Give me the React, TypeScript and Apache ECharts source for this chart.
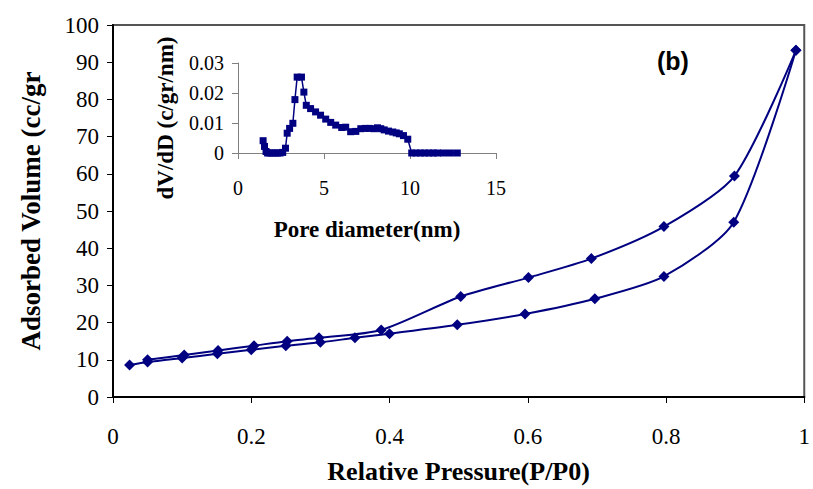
import React, { useEffect, useRef } from "react";
import * as echarts from "echarts";

// Main isotherm: adsorption branch
const adsP = [0.024, 0.05, 0.1, 0.151, 0.2, 0.25, 0.3, 0.35, 0.4, 0.498, 0.596, 0.697, 0.797, 0.898, 0.988];
const adsV = [8.6, 9.4, 10.5, 11.6, 12.7, 13.8, 14.7, 15.9, 17.0, 19.4, 22.3, 26.4, 32.4, 47.0, 93.2];
// Desorption branch
const desP = [0.988, 0.899, 0.797, 0.692, 0.601, 0.503, 0.388, 0.298, 0.252, 0.204, 0.152, 0.103, 0.05];
const desV = [93.2, 59.4, 45.8, 37.2, 32.1, 27.0, 18.0, 15.9, 15.0, 13.8, 12.5, 11.3, 10.0];

// Inset: pore size distribution
const poreD = [1.46, 1.54, 1.63, 1.72, 1.86, 2.0, 2.15, 2.3, 2.45, 2.6, 2.76, 2.86, 3.0, 3.19, 3.31, 3.44, 3.69, 3.83, 3.97,
  4.22, 4.51, 4.8, 5.1, 5.39, 5.68, 6.03, 6.26, 6.55, 6.85, 7.14, 7.4, 7.63, 7.9, 8.11, 8.3, 8.5, 8.75, 9.0, 9.2, 9.38,
  9.62, 9.87, 10.1, 10.35, 10.6, 10.85, 11.1, 11.35, 11.6, 11.95, 12.35, 12.75];
const dVdD = [0.0041, 0.0022, 0.0005, 0, 0, 0, 0, 0, 0, 0.0002, 0.0016, 0.0066, 0.0082, 0.0099, 0.0178, 0.0253, 0.0253,
  0.0203, 0.0159, 0.0148, 0.0137, 0.0126, 0.0113, 0.0102, 0.0093, 0.0085, 0.0086, 0.0071, 0.0072, 0.0081, 0.0082,
  0.0082, 0.0081, 0.0084, 0.0081, 0.0077, 0.0073, 0.007, 0.0067, 0.0064, 0.0058, 0.0046, 0, 0, 0, 0, 0, 0, 0, 0, 0, 0];

const xTicks = ["0", "0.2", "0.4", "0.6", "0.8", "1"];

const NAVY = "#000080";
const SERIF = "'Liberation Serif', 'Times New Roman', serif";

export default function App() {
  const ref = useRef<HTMLDivElement>(null);
  useEffect(() => {
    if (!ref.current) return;
    const chart = echarts.init(ref.current, null, { renderer: "svg" });
    const zip = (a: number[], b: number[]) => a.map((v, i) => [v, b[i]]);
    chart.setOption({
      animation: false,
      backgroundColor: "#fff",
      grid: [
        { left: 113, top: 25, width: 699, height: 372, show: true, borderColor: "#555", borderWidth: 2, backgroundColor: "transparent" },
        { left: 238, top: 63, width: 258, height: 90 },
      ],
      xAxis: [
        {
          gridIndex: 0, type: "value", min: 0, max: 1, interval: 0.2,
          axisLine: { lineStyle: { color: "#000", width: 2 } },
          axisTick: { inside: false, length: 6, lineStyle: { color: "#000", width: 1 } },
          splitLine: { show: false },
          axisLabel: {
            color: "#000", fontFamily: SERIF, fontSize: 23, margin: 28,
            formatter: (v: number) => xTicks[Math.round(v / 0.2)] ?? String(v),
          },
          name: "Relative Pressure(P/P0)", nameLocation: "middle", nameGap: 61,
          nameTextStyle: { color: "#000", fontFamily: SERIF, fontSize: 26, fontWeight: "bold" },
        },
        {
          gridIndex: 1, type: "value", min: 0, max: 15, interval: 5,
          axisLine: { lineStyle: { color: "#808080", width: 1 } },
          axisTick: { inside: false, length: 6, lineStyle: { color: "#808080" } },
          splitLine: { show: false },
          axisLabel: { color: "#000", fontFamily: SERIF, fontSize: 20, margin: 25 },
          name: "Pore diameter(nm)", nameLocation: "middle", nameGap: 65,
          nameTextStyle: { color: "#000", fontFamily: SERIF, fontSize: 23, fontWeight: "bold" },
        },
      ],
      yAxis: [
        {
          gridIndex: 0, type: "value", min: 0, max: 100, interval: 10,
          axisLine: { show: true, lineStyle: { color: "#000", width: 2 } },
          axisTick: { show: true, inside: false, length: 6, lineStyle: { color: "#000" } },
          splitLine: { show: false },
          axisLabel: { color: "#000", fontFamily: SERIF, fontSize: 23, margin: 14 },
          name: "Adsorbed Volume (cc/gr", nameLocation: "middle", nameGap: 69,
          nameTextStyle: { color: "#000", fontFamily: SERIF, fontSize: 27, fontWeight: "bold" },
        },
        {
          gridIndex: 1, type: "value", min: 0, max: 0.03, interval: 0.01,
          axisLine: { show: true, lineStyle: { color: "#808080", width: 1 } },
          axisTick: { show: true, inside: false, length: 6, lineStyle: { color: "#808080" } },
          splitLine: { show: false },
          axisLabel: { color: "#000", fontFamily: SERIF, fontSize: 20, margin: 14 },
        },
      ],
      graphic: [
        {
          type: "text", left: 657, top: 48,
          style: { text: "(b)", fill: "#000", font: "bold 25px 'Liberation Sans', Arial, sans-serif" },
        },
        {
          type: "text", x: 165, y: 118, rotation: Math.PI / 2,
          style: {
            text: "dV/dD (c/gr/nm)", fill: "#000", align: "center", verticalAlign: "middle",
            font: "bold 23px 'Liberation Serif', 'Times New Roman', serif",
          },
        },
      ],
      series: [
        {
          type: "line", xAxisIndex: 0, yAxisIndex: 0, data: zip(adsP, adsV), smooth: 0.25,
          symbol: "diamond", symbolSize: 11, itemStyle: { color: NAVY }, lineStyle: { color: NAVY, width: 2 },
        },
        {
          type: "line", xAxisIndex: 0, yAxisIndex: 0, data: zip(desP, desV), smooth: 0.25,
          symbol: "diamond", symbolSize: 11, itemStyle: { color: NAVY }, lineStyle: { color: NAVY, width: 2 },
        },
        {
          type: "line", xAxisIndex: 1, yAxisIndex: 1, data: zip(poreD, dVdD),
          symbol: "rect", symbolSize: 7, itemStyle: { color: NAVY }, lineStyle: { color: NAVY, width: 1.5 },
        },
      ],
    });
    return () => chart.dispose();
  }, []);
  return <div ref={ref} style={{ width: 813, height: 489, position: "absolute", left: 0, top: 0 }} />;
}
